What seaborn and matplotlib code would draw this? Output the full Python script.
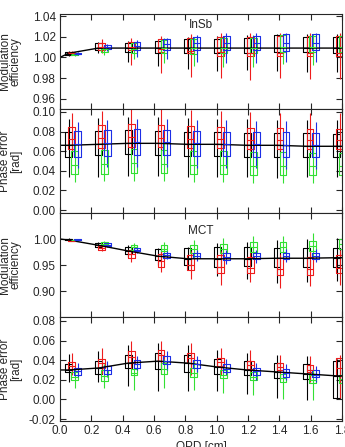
import numpy as np
import pandas as pd

import matplotlib
matplotlib.use("Agg")
import matplotlib.pyplot as plt
import seaborn as sns

# group centres (OPD, cm) and per-series offsets inside a group
GROUP_OPD = [0.055, 0.245, 0.435, 0.625, 0.815, 1.005, 1.195, 1.385, 1.575, 1.765]
SERIES = ["black", "red", "green", "blue"]
SERIES_OFFSET = {"black": 0.0, "red": 0.02, "green": 0.038, "blue": 0.057}
SERIES_COLOR = {"black": "#000000", "red": "#ee1c1c", "green": "#33e033", "blue": "#1c2ee6"}

# each box: (whisker low, q1, median, q3, whisker high)
insb_mod_black = [(1.001, 1.002, 1.003, 1.005, 1.006), (1.004, 1.007, 1.009, 1.0135, 1.015),
                  (0.996, 1.0055, 1.009, 1.014, 1.016), (0.9915, 1.0045, 1.009, 1.016, 1.0175),
                  (0.989, 1.0045, 1.009, 1.0175, 1.020), (0.987, 1.004, 1.009, 1.018, 1.021),
                  (0.988, 1.004, 1.009, 1.0185, 1.022), (0.987, 1.0055, 1.009, 1.0215, 1.023),
                  (0.986, 1.0055, 1.009, 1.020, 1.023), (0.986, 1.004, 1.009, 1.020, 1.023)]
insb_mod_red = [(1.002, 1.003, 1.004, 1.005, 1.006), (1.004, 1.0075, 1.010, 1.014, 1.0175),
                (0.9925, 1.007, 1.010, 1.015, 1.019), (0.985, 1.0055, 1.008, 1.0175, 1.0205),
                (0.981, 1.004, 1.006, 1.019, 1.023), (0.980, 1.001, 1.005, 1.020, 1.024),
                (0.978, 1.001, 1.004, 1.020, 1.024), (0.980, 1.001, 1.004, 1.021, 1.024),
                (0.979, 1.001, 1.004, 1.021, 1.024), (0.979, 1.001, 1.004, 1.021, 1.024)]
insb_mod_green = [(1.001, 1.002, 1.003, 1.004, 1.005), (1.002, 1.0055, 1.008, 1.010, 1.012),
                  (0.998, 1.0045, 1.008, 1.0135, 1.015), (0.995, 1.004, 1.009, 1.0165, 1.0185),
                  (0.992, 1.0035, 1.009, 1.018, 1.020), (0.991, 1.004, 1.009, 1.019, 1.021),
                  (0.991, 1.004, 1.009, 1.019, 1.022), (0.994, 1.0055, 1.010, 1.0215, 1.023),
                  (0.993, 1.005, 1.010, 1.021, 1.023), (0.993, 1.005, 1.010, 1.021, 1.023)]
insb_mod_blue = [(1.002, 1.003, 1.0035, 1.0045, 1.005), (1.0065, 1.0077, 1.010, 1.012, 1.013),
                 (1.0005, 1.007, 1.011, 1.015, 1.0165), (0.9985, 1.0075, 1.0125, 1.0175, 1.019),
                 (0.996, 1.007, 1.0135, 1.020, 1.0215), (0.995, 1.007, 1.0135, 1.0205, 1.0235),
                 (0.995, 1.007, 1.0135, 1.021, 1.0235), (0.996, 1.0065, 1.0135, 1.0225, 1.024),
                 (0.996, 1.007, 1.0135, 1.0225, 1.024), (0.996, 1.007, 1.0135, 1.0225, 1.024)]

insb_pha_black = [(0.034, 0.054, 0.066, 0.080, 0.093), (0.034, 0.056, 0.067, 0.081, 0.094),
                  (0.035, 0.057, 0.068, 0.082, 0.095), (0.035, 0.056, 0.068, 0.081, 0.095),
                  (0.034, 0.055, 0.067, 0.080, 0.094), (0.034, 0.055, 0.067, 0.080, 0.093),
                  (0.034, 0.054, 0.066, 0.079, 0.093), (0.033, 0.054, 0.066, 0.079, 0.092),
                  (0.034, 0.054, 0.065, 0.079, 0.092), (0.034, 0.054, 0.065, 0.078, 0.092)]
insb_pha_red = [(0.060, 0.062, 0.072, 0.085, 0.099), (0.061, 0.063, 0.073, 0.087, 0.101),
                (0.062, 0.064, 0.074, 0.088, 0.104), (0.062, 0.064, 0.073, 0.087, 0.103),
                (0.061, 0.063, 0.072, 0.086, 0.102), (0.061, 0.063, 0.072, 0.085, 0.101),
                (0.060, 0.062, 0.071, 0.084, 0.100), (0.060, 0.062, 0.071, 0.084, 0.099),
                (0.060, 0.062, 0.071, 0.083, 0.099), (0.060, 0.062, 0.071, 0.083, 0.099)]
insb_pha_green = [(0.029, 0.037, 0.046, 0.060, 0.066), (0.030, 0.037, 0.047, 0.061, 0.067),
                  (0.030, 0.038, 0.048, 0.062, 0.068), (0.030, 0.038, 0.047, 0.061, 0.068),
                  (0.029, 0.037, 0.046, 0.060, 0.067), (0.029, 0.037, 0.046, 0.060, 0.067),
                  (0.028, 0.036, 0.045, 0.059, 0.066), (0.028, 0.036, 0.045, 0.059, 0.066),
                  (0.028, 0.036, 0.045, 0.058, 0.065), (0.028, 0.036, 0.045, 0.058, 0.065)]
insb_pha_blue = [(0.043, 0.054, 0.067, 0.081, 0.090), (0.044, 0.055, 0.068, 0.082, 0.092),
                 (0.044, 0.056, 0.069, 0.083, 0.093), (0.044, 0.056, 0.069, 0.082, 0.093),
                 (0.043, 0.055, 0.068, 0.081, 0.092), (0.043, 0.055, 0.067, 0.080, 0.092),
                 (0.043, 0.054, 0.067, 0.080, 0.091), (0.042, 0.054, 0.066, 0.080, 0.091),
                 (0.042, 0.054, 0.066, 0.079, 0.090), (0.042, 0.054, 0.066, 0.079, 0.090)]

mct_mod_black = [(0.998, 0.999, 0.9995, 1.000, 1.001), (0.982, 0.984, 0.988, 0.9915, 0.994),
                 (0.966, 0.9705, 0.977, 0.985, 0.988), (0.950, 0.960, 0.968, 0.981, 0.983),
                 (0.940, 0.950, 0.962, 0.982, 0.985), (0.928, 0.947, 0.962, 0.985, 0.992),
                 (0.924, 0.949, 0.962, 0.985, 0.995), (0.915, 0.947, 0.963, 0.982, 0.998),
                 (0.918, 0.947, 0.963, 0.982, 1.000), (0.920, 0.947, 0.964, 0.983, 1.002)]
mct_mod_red = [(0.996, 0.9965, 0.997, 0.998, 0.999), (0.977, 0.979, 0.983, 0.987, 0.989),
               (0.956, 0.963, 0.971, 0.979, 0.982), (0.937, 0.947, 0.958, 0.9705, 0.976),
               (0.924, 0.940, 0.950, 0.970, 0.976), (0.912, 0.934, 0.947, 0.969, 0.977),
               (0.917, 0.934, 0.945, 0.966, 0.976), (0.905, 0.931, 0.942, 0.963, 0.972),
               (0.910, 0.931, 0.942, 0.966, 0.976), (0.912, 0.934, 0.945, 0.969, 0.978)]
mct_mod_green = [(0.997, 0.998, 0.9985, 0.999, 1.000), (0.986, 0.988, 0.991, 0.995, 0.997),
                 (0.976, 0.979, 0.984, 0.9885, 0.992), (0.968, 0.976, 0.981, 0.988, 0.994),
                 (0.963, 0.9725, 0.980, 0.988, 0.998), (0.968, 0.9725, 0.980, 0.990, 1.001),
                 (0.962, 0.9755, 0.984, 0.995, 1.005), (0.962, 0.9755, 0.985, 0.995, 1.005),
                 (0.966, 0.977, 0.987, 0.996, 1.011), (0.964, 0.980, 0.990, 1.000, 1.010)]
mct_mod_blue = [(0.998, 0.9985, 0.999, 0.9995, 1.000), (0.985, 0.9865, 0.989, 0.992, 0.993),
                (0.973, 0.976, 0.979, 0.982, 0.984), (0.962, 0.964, 0.969, 0.974, 0.977),
                (0.957, 0.963, 0.967, 0.9725, 0.979), (0.951, 0.960, 0.966, 0.9725, 0.979),
                (0.954, 0.961, 0.967, 0.9725, 0.979), (0.956, 0.962, 0.968, 0.974, 0.981),
                (0.956, 0.962, 0.968, 0.974, 0.981), (0.956, 0.962, 0.968, 0.974, 0.981)]

mct_pha_black = [(0.018, 0.028, 0.030, 0.036, 0.046), (0.018, 0.026, 0.032, 0.039, 0.049),
                 (0.0135, 0.032, 0.037, 0.0455, 0.055), (0.009, 0.031, 0.039, 0.047, 0.058),
                 (0.009, 0.028, 0.037, 0.0455, 0.055), (0.009, 0.026, 0.033, 0.041, 0.050),
                 (0.0055, 0.0245, 0.030, 0.039, 0.047), (0.001, 0.0215, 0.028, 0.0375, 0.0455),
                 (-0.001, 0.0205, 0.026, 0.036, 0.044), (0.000, 0.001, 0.024, 0.039, 0.041)]
mct_pha_red = [(0.0245, 0.0305, 0.034, 0.0385, 0.047), (0.026, 0.0325, 0.037, 0.0415, 0.052),
               (0.031, 0.0375, 0.043, 0.049, 0.060), (0.026, 0.039, 0.045, 0.050, 0.060),
               (0.0245, 0.0375, 0.042, 0.047, 0.057), (0.0245, 0.034, 0.038, 0.042, 0.052),
               (0.0215, 0.031, 0.035, 0.039, 0.050), (0.020, 0.0295, 0.033, 0.0375, 0.0455),
               (0.018, 0.028, 0.030, 0.035, 0.044), (0.001, 0.0235, 0.032, 0.042, 0.045)]
mct_pha_green = [(0.012, 0.020, 0.023, 0.028, 0.0325), (0.012, 0.019, 0.024, 0.0295, 0.036),
                 (0.010, 0.0245, 0.027, 0.031, 0.0375), (0.012, 0.026, 0.031, 0.0375, 0.041),
                 (0.010, 0.023, 0.027, 0.0325, 0.039), (0.007, 0.0215, 0.025, 0.0295, 0.036),
                 (0.004, 0.020, 0.023, 0.028, 0.0325), (0.0005, 0.018, 0.022, 0.026, 0.031),
                 (-0.001, 0.0165, 0.020, 0.0245, 0.031), (-0.001, 0.017, 0.021, 0.025, 0.030)]
mct_pha_blue = [(0.023, 0.0245, 0.029, 0.0325, 0.0375), (0.023, 0.0255, 0.030, 0.034, 0.039),
                (0.0295, 0.0325, 0.036, 0.040, 0.044), (0.0295, 0.036, 0.039, 0.044, 0.049),
                (0.028, 0.0325, 0.036, 0.040, 0.044), (0.0245, 0.028, 0.031, 0.036, 0.041),
                (0.020, 0.0245, 0.029, 0.0325, 0.0375), (0.020, 0.023, 0.027, 0.031, 0.036),
                (0.018, 0.0225, 0.025, 0.030, 0.034), (0.018, 0.0225, 0.025, 0.030, 0.034)]

# black model curves
LINE_OPD = [0.0, 0.055, 0.245, 0.435, 0.625, 0.815, 1.005, 1.195, 1.385, 1.575, 1.765, 1.8]
insb_mod_line = [1.000, 1.004, 1.009, 1.009, 1.009, 1.009, 1.009, 1.009, 1.009, 1.009, 1.009, 1.009]
insb_pha_line = [0.066, 0.066, 0.067, 0.068, 0.068, 0.067, 0.067, 0.066, 0.066, 0.065, 0.065, 0.065]
mct_mod_line = [1.000, 0.998, 0.988, 0.977, 0.967, 0.962, 0.962, 0.962, 0.963, 0.963, 0.964, 0.964]
mct_pha_line = [0.030, 0.030, 0.032, 0.037, 0.039, 0.037, 0.033, 0.030, 0.028, 0.026, 0.024, 0.024]

XTICKS = [0.0, 0.2, 0.4, 0.6, 0.8, 1.0, 1.2, 1.4, 1.6, 1.8]
XTICKLABELS = ["0.0", "0.2", "0.4", "0.6", "0.8", "1.0", "1.2", "1.4", "1.6", "1.8"]

PANELS = [
    dict(boxes=[insb_mod_black, insb_mod_red, insb_mod_green, insb_mod_blue], line=insb_mod_line,
         ylabel="Modulation\nefficiency", ylim=(0.95, 1.042),
         yticks=[0.96, 0.98, 1.00, 1.02, 1.04], label="InSb", label_y=1.031),
    dict(boxes=[insb_pha_black, insb_pha_red, insb_pha_green, insb_pha_blue], line=insb_pha_line,
         ylabel="Phase error\n[rad]", ylim=(-0.003, 0.103),
         yticks=[0.00, 0.02, 0.04, 0.06, 0.08, 0.10]),
    dict(boxes=[mct_mod_black, mct_mod_red, mct_mod_green, mct_mod_blue], line=mct_mod_line,
         ylabel="Modulation\nefficiency", ylim=(0.85, 1.05),
         yticks=[0.90, 0.95, 1.00], label="MCT", label_y=1.016),
    dict(boxes=[mct_pha_black, mct_pha_red, mct_pha_green, mct_pha_blue], line=mct_pha_line,
         ylabel="Phase error\n[rad]", ylim=(-0.022, 0.084),
         yticks=[-0.02, 0.00, 0.02, 0.04, 0.06, 0.08]),
]


def long_table(boxes, series):
    rows = []
    for opd, stats in zip(GROUP_OPD, boxes):
        for v in stats:
            rows.append({"opd": round(opd + SERIES_OFFSET[series], 4), "val": v})
    return pd.DataFrame(rows)


sns.set_style("ticks")
plt.rcParams["font.family"] = ["Liberation Sans", "DejaVu Sans"]
plt.rcParams["font.size"] = 8

fig = plt.figure(figsize=(3.45, 4.47), dpi=100)
left, right = 60 / 345, 342 / 345
edges = [14, 109, 213, 317, 421]
box_w = 0.043 / 0.19

for k, p in enumerate(PANELS):
    top = 1 - edges[k] / 447
    bot = 1 - edges[k + 1] / 447
    ax = fig.add_axes([left, bot, right - left, top - bot])
    for series, boxes in zip(SERIES, p["boxes"]):
        df = long_table(boxes, series)
        c = SERIES_COLOR[series]
        sns.boxplot(data=df, x="opd", y="val", orient="x", native_scale=True, fill=False,
                    color=c, linecolor=c, width=box_w, whis=(0, 100), showcaps=False,
                    linewidth=0.8, ax=ax)
        stats = np.array(boxes)
        xs = np.array(GROUP_OPD) + SERIES_OFFSET[series]
        ax.vlines(xs, stats[:, 1], stats[:, 3], color=c, lw=0.8)
    sns.lineplot(x=LINE_OPD, y=p["line"], color="black", lw=1.0, ax=ax)
    ax.set_xlim(0, 1.8)
    ax.set_ylim(*p["ylim"])
    ax.set_yticks(p["yticks"])
    ax.set_yticklabels([f"{t:.2f}" for t in p["yticks"]])
    ax.set_xticks(XTICKS)
    ax.tick_params(direction="in", top=True, right=True, length=4, width=0.8,
                   labelsize=8.5, pad=3)
    ax.set_ylabel(p["ylabel"], fontsize=8.5, linespacing=0.85)
    ax.yaxis.set_label_coords(-0.135, 0.5)
    for sp in ax.spines.values():
        sp.set_linewidth(0.8)
    if "label" in p:
        ax.text(0.9, p["label_y"], p["label"], ha="center", va="center", fontsize=8.5)
    if k < 3:
        ax.set_xticklabels([])
        ax.set_xlabel("")
    else:
        ax.set_xticklabels(XTICKLABELS)
        ax.set_xlabel("OPD [cm]", fontsize=8.5, labelpad=3)

fig.savefig("out.png", dpi=100)
